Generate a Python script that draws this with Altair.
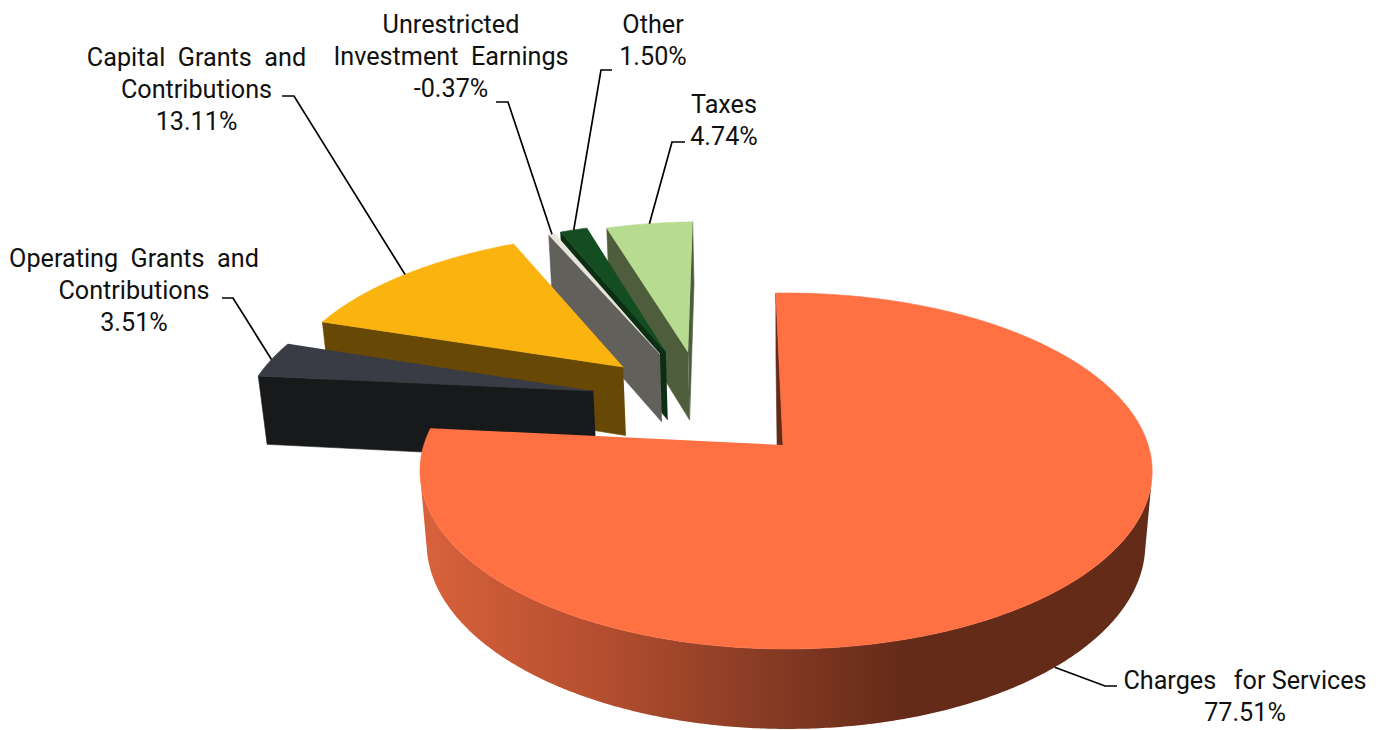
import math
import altair as alt
import pandas as pd

# Revenue shares, in the order they run clockwise around the pie
categories = [
    "Charges for Services",
    "Operating Grants and Contributions",
    "Capital Grants and Contributions",
    "Unrestricted Investment Earnings",
    "Other",
    "Taxes",
]
shares = [77.51, 3.51, 13.11, -0.37, 1.50, 4.74]

# Label text, one entry per printed line (the value line is appended from shares)
label_lines = [
    ["Charges\u00a0\u00a0\u2009for Services"],
    ["Operating\u00a0\u00a0Grants\u00a0\u00a0and", "Contributions"],
    ["Capital\u00a0\u00a0Grants\u00a0\u00a0and", "Contributions"],
    ["Unrestricted", "Investment\u00a0\u00a0Earnings"],
    ["Other"],
    ["Taxes"],
]

# Face colours per slice
top_colors = ["#ff7043", "#393c45", "#fbb40f", "#e9e5dd", "#154d22", "#b8dc8f"]
side_colors = ["#642b19", "#18191b", "#674805", "#62605a", "#0c2f14", "#4e5e3c"]
wall_stops = [(0.0, "#d9623b"), (0.27, "#b04c2e"), (0.45, "#8b3d25"), (0.66, "#652b19"), (1.0, "#642b19")]

# Camera of the perspective pie
CX, CY = 783.0, 445.0
FOCAL, DIST = 2180.0, 6.02
SIN_E, COS_E = 0.481, 0.879
YAW = -0.05
THICK = 0.231
CAMERA_Y = -COS_E * DIST
START_ANGLE = -1.3
# The large slice's hidden inner corner sits slightly left of its top corner
INNER_LEAN = 0.014

# Displacement and radius of each slice on the pie's plane
explode = [(0.0, 0.0), (-0.551, 0.326), (-0.474, 0.481), (-0.369, 0.567), (-0.352, 0.581), (-0.285, 0.5805)]
radius = [1.0, 1.012, 1.012, 1.0, 1.0, 1.0]

# Where each label block sits: centre x and the baseline of its first line
label_anchor = [(1245, 689), (134, 266.5), (196.5, 65.5), (451, 33), (653, 33), (724, 113)]
# Horizontal stub of each leader line, label end first
leader_stub = [
    ((1117, 686), (1105, 686)),
    ((222, 298), (233, 298)),
    ((282, 96), (294, 96)),
    ((496, 102), (508, 102)),
    ((612, 70), (601, 70)),
    ((685, 142), (672, 142)),
]
LINE_GAP = 32.0

x_scale = alt.Scale(domain=[0, 1385], range=[0, 1385], nice=False, zero=False)
y_scale = alt.Scale(domain=[730, 0], nice=False, zero=False)


def project(px, py, pz=0.0):
    w = DIST + COS_E * py + YAW * px - SIN_E * pz
    return CX + FOCAL * px / w, CY - FOCAL * (SIN_E * py + COS_E * pz) / w


def rim(i, deg, pz=0.0):
    t = math.radians(deg)
    off = explode[i]
    return project(off[0] + radius[i] * math.sin(t), off[1] + radius[i] * math.cos(t), pz)


def arc_degrees(a, b, step=1.0):
    n = max(2, int(abs(b - a) / step) + 1)
    return [a + (b - a) * k / (n - 1) for k in range(n)]


def polygon(points, fill):
    frame = pd.DataFrame(points, columns=["x", "y"])
    frame["ord"] = range(len(frame))
    if isinstance(fill, str):
        mark = alt.Chart(frame).mark_line(fill=fill, stroke=fill, strokeWidth=0.6)
    else:
        mark = alt.Chart(frame).mark_line(fill=fill, strokeWidth=0)
    return mark.encode(
        x=alt.X("x:Q", scale=x_scale, axis=None),
        y=alt.Y("y:Q", scale=y_scale, axis=None),
        order=alt.Order("ord:Q"),
    )


def face_visible(normal, point):
    return normal[0] * (0 - point[0]) + normal[1] * (CAMERA_Y - point[1]) > 0


total = sum(abs(v) for v in shares)
angles = []
cursor = START_ANGLE
for v in shares:
    span = abs(v) / total * 360
    angles.append((cursor, cursor + span))
    cursor += span

wall_gradient = alt.LinearGradient(
    gradient="linear", x1=0, x2=1, y1=0, y2=0,
    stops=[alt.GradientStop(offset=o, color=c) for o, c in wall_stops],
)

layers = []
# Painter's order: rear slices first, the large front slice last
for i in [5, 4, 3, 2, 1, 0]:
    a, b = angles[i]
    off = explode[i]
    apex = project(off[0], off[1])
    lean = INNER_LEAN if i == 0 else 0.0
    apex_low = project(off[0] - lean, off[1], -THICK)

    # The two cut faces
    ta, tb = math.radians(a), math.radians(b)
    if face_visible((-math.cos(ta), math.sin(ta)), off):
        layers.append(polygon([apex, rim(i, a), rim(i, a, -THICK), apex_low], side_colors[i]))
    if face_visible((math.cos(tb), -math.sin(tb)), off):
        layers.append(polygon([apex, rim(i, b), rim(i, b, -THICK), apex_low], side_colors[i]))

    # Outer wall, only the part turned towards the viewer
    seen = [
        d for d in arc_degrees(a, b, 0.5)
        if face_visible((math.sin(math.radians(d)), math.cos(math.radians(d))),
                        (off[0] + math.sin(math.radians(d)), off[1] + math.cos(math.radians(d))))
    ]
    if len(seen) > 1:
        pts = [rim(i, d) for d in seen] + [rim(i, d, -THICK) for d in reversed(seen)]
        layers.append(polygon(pts, wall_gradient if i == 0 else side_colors[i]))

    # Top surface
    layers.append(polygon([apex] + [rim(i, d) for d in arc_degrees(a, b, 0.5)], top_colors[i]))

# Leader lines, from the label to the middle of the slice's rim
for i, (stub_a, stub_b) in enumerate(leader_stub):
    a, b = angles[i]
    mid = (a + b) / 2
    end = rim(i, mid, -THICK if i == 0 else 0.0)
    frame = pd.DataFrame([stub_a, stub_b, end], columns=["x", "y"])
    frame["ord"] = range(3)
    layers.append(
        alt.Chart(frame).mark_line(color="#000000", strokeWidth=1.7).encode(
            x=alt.X("x:Q", scale=x_scale, axis=None),
            y=alt.Y("y:Q", scale=y_scale, axis=None),
            order=alt.Order("ord:Q"),
        )
    )

# Label text
rows = []
for i, lines in enumerate(label_lines):
    cx, base = label_anchor[i]
    printed = lines + [f"{shares[i]:.2f}%"]
    for k, line in enumerate(printed):
        rows.append({"x": cx, "y": base + k * LINE_GAP, "text": line})
layers.append(
    alt.Chart(pd.DataFrame(rows)).mark_text(
        font="Roboto", fontSize=25.2, color="#111111", align="center", baseline="alphabetic"
    ).encode(
        x=alt.X("x:Q", scale=x_scale, axis=None),
        y=alt.Y("y:Q", scale=y_scale, axis=None),
        text="text:N",
    )
)

chart = (
    alt.layer(*layers)
    .properties(width=1385, height=730, padding=0, autosize=alt.AutoSizeParams(type="none"), background="#ffffff")
    .configure_view(stroke=None)
)
chart.save("out.html", embed_options={"renderer": "svg", "actions": False})
